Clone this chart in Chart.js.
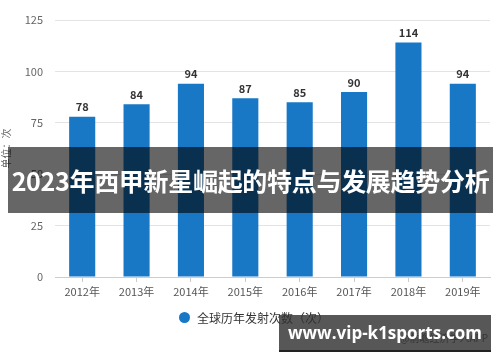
<!DOCTYPE html>
<html><head><meta charset="utf-8">
<script src="https://cdn.jsdelivr.net/npm/chart.js@4"></script>
<style>
html,body{margin:0;padding:0;background:#fff;}
#wrap{position:relative;width:500px;height:362px;font-family:"Noto Sans CJK SC","Noto Sans",sans-serif;}
canvas{position:absolute;left:0;top:0;}
#legend{position:absolute;left:179px;top:309px;font-size:12px;color:#333;display:flex;align-items:center;white-space:nowrap;}
#legend span.dot{display:inline-block;width:11px;height:11px;border-radius:50%;background:#1878c6;margin-right:7px;}
#band{position:absolute;left:8px;top:147px;width:485px;height:66px;background:rgba(0,0,0,0.6);color:#fff;font-weight:bold;font-size:25px;line-height:66px;text-align:center;white-space:nowrap;letter-spacing:-0.3px;overflow:hidden;}
#credit{position:absolute;left:400px;top:330px;font-size:10px;color:#444;white-space:nowrap;}
#wm{position:absolute;left:279px;top:315px;width:212px;height:35px;background:rgba(50,50,50,0.82);border-bottom:2px solid #222;color:#fff;font-weight:bold;font-size:17px;line-height:35px;text-align:center;white-space:nowrap;font-family:"Open Sans","DejaVu Sans",sans-serif;}
</style></head>
<body>
<div id="wrap">
<canvas id="c" width="500" height="362"></canvas>
<div id="legend"><span class="dot"></span>全球历年发射次数（次）</div>
<div id="credit">@前瞻经济学人APP</div>
<div id="band">2023年西甲新星崛起的特点与发展趋势分析</div>
<div id="wm">www.vip-k1sports.com</div>
</div>
<script>
const categories = ["2012年","2013年","2014年","2015年","2016年","2017年","2018年","2019年"];
const launches = [78, 84, 94, 87, 85, 90, 114, 94];
const seriesName = "全球历年发射次数（次）";
const yTitle = "单位：次";

const labelPlugin = {
  id: 'valueLabels',
  afterDatasetsDraw(chart) {
    const ctx = chart.ctx;
    const meta = chart.getDatasetMeta(0);
    ctx.save();
    ctx.font = 'bold 11px "Noto Sans CJK SC", "Noto Sans", sans-serif';
    ctx.fillStyle = '#333';
    ctx.textAlign = 'center';
    ctx.textBaseline = 'bottom';
    meta.data.forEach((el, i) => {
      ctx.fillText(String(launches[i]), el.x, el.y - 4);
    });
    ctx.restore();
  }
};

new Chart(document.getElementById('c'), {
  type: 'bar',
  data: {
    labels: categories,
    datasets: [{
      label: seriesName,
      data: launches,
      backgroundColor: '#1878c6',
      barPercentage: 0.48,
      categoryPercentage: 1.0
    }]
  },
  options: {
    responsive: false,
    animation: false,
    layout: { padding: { top: 20, right: 10, left: 0, bottom: 0 } },
    plugins: { legend: { display: false }, tooltip: { enabled: false } },
    scales: {
      y: {
        min: 0, max: 125,
        ticks: { stepSize: 25, color: '#666', padding: 12, font: { size: 11, family: '"Noto Sans CJK SC", sans-serif' } },
        grid: { color: '#e3e3e3', drawTicks: false },
        border: { display: false },
        title: { display: true, text: yTitle, color: '#666', padding: 0, font: { size: 10, family: '"Noto Sans CJK SC", sans-serif' } },
        afterFit(s) { s.width = 55; }
      },
      x: {
        ticks: { color: '#555', padding: 3, font: { size: 11, family: '"Noto Sans CJK SC", sans-serif' } },
        grid: { drawOnChartArea: false, drawTicks: true, tickLength: 5, color: '#ccc', offset: false },
        border: { color: '#ccc' },
        afterFit(s) { s.height = 85; }
      }
    }
  },
  plugins: [labelPlugin]
});
</script>
</body></html>
